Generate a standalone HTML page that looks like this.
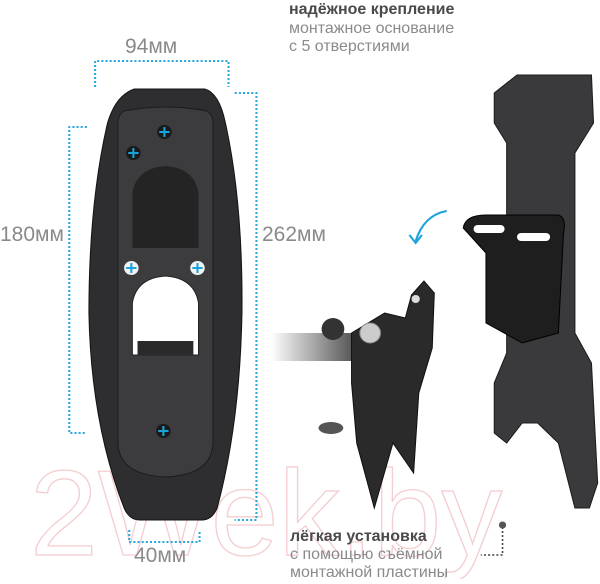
<!DOCTYPE html>
<html><head><meta charset="utf-8"><style>
body{margin:0;background:#fff;width:600px;height:579px;overflow:hidden;font-family:"Liberation Sans",sans-serif}
</style></head><body>
<svg width="600" height="579" viewBox="0 0 600 579" xmlns="http://www.w3.org/2000/svg">
<defs>
<linearGradient id="arm" x1="0" x2="1"><stop offset="0" stop-color="#fff"/><stop offset="1" stop-color="#555"/></linearGradient>
</defs>
<text x="30" y="555" font-size="122" font-family="Liberation Sans" fill="none" stroke="#f4cdd0" stroke-width="1.3">2Wek.by</text>
<g transform="translate(0,3) scale(1.034,1)">
<g stroke="#29a8e0" stroke-width="2" stroke-dasharray="2 2" fill="none">
<path d="M92 84V58H221V84"/>
<path d="M227 90H248V517H227"/>
<path d="M84 124H67V430H84"/>
<path d="M125 527V539H193V527"/>
</g>
<g stroke="#444" stroke-width="1.5" stroke-dasharray="2 2" fill="none"><path d="M486 524V552H465"/></g>
<circle cx="486" cy="522" r="3.5" fill="#555"/>
<path d="M130 86 L198 86 Q212 90 218 120 Q235 200 234 310 Q232 420 210 505 Q205 517 195 517 L135 517 Q125 517 120 505 Q88 420 86 310 Q86 200 104 120 Q112 92 130 86Z" fill="#2e2d2f" stroke="#151515"/>
<path d="M120 108 Q160 100 200 108 Q207 112 206 125 L206 440 Q205 472 160 474 Q115 472 114 440 L114 125 Q113 112 120 108Z" fill="#3c3b3d" stroke="#1c1c1c"/>
<path d="M128 245 L128 190 Q132 165 160 163 Q188 165 192 190 L192 245Z" fill="#252425"/>
<path d="M128 352 L128 300 Q132 275 160 273 Q188 275 192 300 L192 352Z" fill="#fff" stroke="#222"/>
<rect x="133" y="338" width="54" height="14" fill="#2a2a2a"/>
<g fill="#1a1a1a"><circle cx="159" cy="129" r="7"/><circle cx="129" cy="150" r="7"/><circle cx="158" cy="428" r="7"/></g>
<g fill="#f2f2f2"><circle cx="127" cy="265" r="7"/><circle cx="191" cy="265" r="7"/></g>
<g stroke="#19a3dc" stroke-width="2"><path d="M154 129h10M159 124v10M124 150h10M129 145v10M122 265h10M127 260v10M186 265h10M191 260v10M153 428h10M158 423v10"/></g>
<path d="M478 90 L500 72 L572 72 L574 120 L556 150 L556 330 L572 360 L578 480 L570 505 L556 505 L540 440 L520 420 L505 420 L490 440 L478 430 L478 380 L490 350 L490 140 L478 120Z" fill="#3a3a3c" stroke="#1c1c1c"/>
<path d="M448 225 Q450 212 470 212 L540 212 Q548 215 545 230 L540 330 L505 340 L470 320 L470 250Z" fill="#1e1e1f" stroke="#000"/>
<rect x="458" y="222" width="30" height="8" rx="4" fill="#fff"/>
<rect x="500" y="230" width="32" height="8" rx="4" fill="#fff"/>
<rect x="262" y="330" width="80" height="28" fill="url(#arm)"/>
<circle cx="322" cy="326" r="11" fill="#333"/>
<ellipse cx="320" cy="425" rx="12" ry="6" fill="#555"/>
<path d="M340 330 L372 310 L392 315 L398 292 L410 278 L420 290 L418 345 L405 390 L400 470 L380 440 L362 505 L345 440 L340 380Z" fill="#2a2a2b" stroke="#111"/>
<circle cx="358" cy="330" r="10" fill="#ccc" stroke="#888"/>
<circle cx="402" cy="296" r="4" fill="#ddd"/>
<path d="M432 208 Q410 212 402 238" stroke="#19a3dc" stroke-width="2" fill="none"/>
<path d="M396 232 L402 240 L408 232" stroke="#19a3dc" stroke-width="2" fill="none"/>
</g>
<g font-family="Liberation Sans" fill="#8a8a8a">
<text x="289" y="14" font-size="16" font-weight="bold" fill="#4a4a4a">надёжное крепление</text>
<text x="289" y="33" font-size="16">монтажное основание</text>
<text x="289" y="51" font-size="16">с 5 отверстиями</text>
<text x="125" y="53" font-size="21">94мм</text>
<text x="0" y="241" font-size="21">180мм</text>
<text x="262" y="241" font-size="21">262мм</text>
<text x="134" y="562" font-size="21">40мм</text>
<text x="290" y="541" font-size="16" font-weight="bold" fill="#4a4a4a">лёгкая установка</text>
<text x="290" y="559" font-size="16">с помощью съёмной</text>
<text x="290" y="577" font-size="16">монтажной пластины</text>
</g>
</svg>
</body></html>
